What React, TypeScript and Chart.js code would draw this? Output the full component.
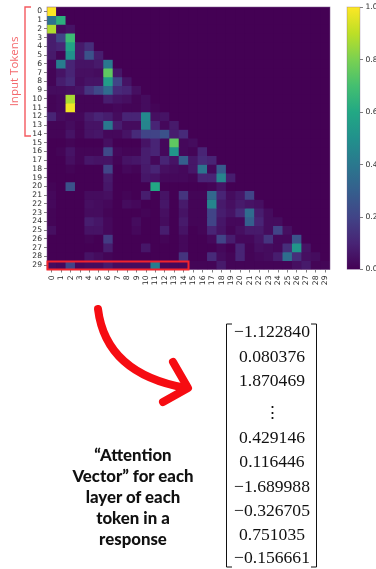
import React, { useEffect, useRef } from "react";
import { Chart, registerables } from "chart.js";

Chart.register(...registerables);

const tokens = Array.from({ length: 30 }, (_, i) => String(i));

const row00 = [1.0];
const row01 = [0.38, 0.63];
const row02 = [0.88, 0.03, 0.05];
const row03 = [0.08, 0.2, 0.68];
const row04 = [0.08, 0.1, 0.58, 0.07, 0.13];
const row05 = [0.07, 0.01, 0.5, 0.07, 0.25, 0.08];
const row06 = [0.02, 0.42, 0.1, 0.05, 0.05, 0.07, 0.4];
const row07 = [0.01, 0.05, 0.1, 0.04, 0.04, 0.03, 0.75, 0.06];
const row08 = [0.01, 0.08, 0.12, 0.03, 0.05, 0.05, 0.55, 0.2, 0.05];
const row09 = [0.03, 0.03, 0.04, 0.05, 0.15, 0.22, 0.35, 0.12, 0.1, 0.04];
const row10 = [0.01, 0.02, 0.87, 0.01, 0.01, 0.01, 0.08, 0.05, 0.04, 0.01, 0.03];
const row11 = [0.01, 0.02, 0.98, 0.01, 0.01, 0.01, 0.01, 0.02, 0.01, 0.01, 0.03, 0.01];
const row12 = [0.1, 0.03, 0.02, 0.02, 0.07, 0.1, 0.08, 0.03, 0.1, 0.1, 0.47, 0.04, 0.05];
const row13 = [0.01, 0.01, 0.03, 0.01, 0.05, 0.05, 0.4, 0.08, 0.03, 0.03, 0.45, 0.1, 0.02, 0.07];
const row14 = [0.01, 0.01, 0.05, 0.01, 0.05, 0.06, 0.02, 0.02, 0.05, 0.12, 0.2, 0.2, 0.25, 0.08, 0.12];
const row15 = [0, 0, 0.01, 0, 0, 0, 0.04, 0, 0, 0, 0.05, 0.1, 0.02, 0.75, 0.02, 0.03];
const row16 = [0, 0.01, 0.05, 0.01, 0.01, 0.01, 0.22, 0.02, 0.01, 0.01, 0.08, 0.1, 0.02, 0.52, 0.02, 0.01, 0.1];
const row17 = [0, 0, 0.04, 0.01, 0.06, 0.05, 0.05, 0.01, 0.05, 0.06, 0.08, 0.02, 0.1, 0.05, 0.3, 0.06, 0.12, 0.1];
const row18 = [0, 0, 0.01, 0, 0, 0, 0.2, 0, 0.02, 0.01, 0.07, 0.1, 0.04, 0.03, 0.02, 0.06, 0.38, 0.02, 0.28];
const row19 = [0, 0, 0, 0, 0, 0, 0.07, 0, 0, 0, 0.06, 0.05, 0.02, 0.02, 0.02, 0.01, 0.1, 0.1, 0.45, 0.08];
const row20 = [0.01, 0, 0.25, 0, 0, 0, 0.06, 0, 0, 0, 0, 0.6, 0, 0, 0, 0, 0, 0.01, 0.05, 0];
const row21 = [0.02, 0, 0, 0, 0.03, 0.03, 0.04, 0, 0.01, 0, 0.08, 0, 0.05, 0, 0.15, 0.01, 0.01, 0.33, 0.1, 0.03, 0.06, 0.2];
const row22 = [0.02, 0, 0, 0, 0.04, 0.03, 0.02, 0, 0.03, 0.02, 0, 0, 0.06, 0, 0.07, 0.01, 0.01, 0.45, 0.07, 0.04, 0.07, 0.05, 0.04];
const row23 = [0.01, 0, 0, 0, 0.03, 0.03, 0.01, 0, 0, 0, 0.01, 0, 0.04, 0, 0.05, 0.01, 0.01, 0.2, 0.08, 0.05, 0.12, 0.35, 0.08, 0.03];
const row24 = [0.01, 0, 0, 0, 0.08, 0.06, 0.02, 0, 0, 0.03, 0, 0, 0.03, 0, 0.07, 0.01, 0.01, 0.2, 0.06, 0.02, 0.02, 0.3, 0.1, 0.03, 0.03];
const row25 = [0.04, 0, 0, 0, 0.05, 0.05, 0.02, 0, 0, 0.02, 0, 0, 0.08, 0, 0.05, 0, 0.01, 0.1, 0.05, 0.01, 0.04, 0.07, 0.07, 0.03, 0.2, 0.04];
const row26 = [0, 0, 0, 0, 0.01, 0, 0.17, 0, 0, 0, 0, 0, 0.01, 0, 0.02, 0, 0, 0.02, 0.2, 0.08, 0.02, 0.02, 0.05, 0.15, 0.02, 0.02, 0.25];
const row27 = [0, 0, 0, 0, 0, 0, 0.08, 0, 0, 0, 0.06, 0, 0, 0, 0.02, 0, 0, 0, 0.02, 0, 0.1, 0.01, 0.04, 0.03, 0.02, 0.13, 0.52, 0.05];
const row28 = [0, 0, 0, 0, 0.05, 0.03, 0.01, 0, 0, 0, 0, 0, 0, 0, 0.15, 0, 0, 0.12, 0.03, 0.01, 0.1, 0.01, 0.02, 0.03, 0.08, 0.36, 0.13, 0.04, 0.03];
const row29 = [0.03, 0.02, 0.2, 0.02, 0.03, 0.03, 0.07, 0.03, 0.03, 0.03, 0.03, 0.42, 0.02, 0.02, 0.02, 0.01, 0.01, 0.01, 0.07, 0.01, 0.01, 0.01, 0.01, 0.01, 0.01, 0.01, 0.04, 0.07, 0.01, 0.01];

const rows = [
  row00, row01, row02, row03, row04, row05, row06, row07, row08, row09,
  row10, row11, row12, row13, row14, row15, row16, row17, row18, row19,
  row20, row21, row22, row23, row24, row25, row26, row27, row28, row29,
];

const colorbarValues = [1];
const colorbarTicks = [0, 0.2, 0.4, 0.6, 0.8, 1];

const vectorTop = ["\u22121.122840", "0.080376", "1.870469"];
const vectorBottom = ["0.429146", "0.116446", "\u22121.689988", "\u22120.326705", "0.751035", "\u22120.156661"];
const captionLines = ["\u201CAttention", "Vector\u201D for each", "layer of each", "token in a", "response"];

const viridis = [
  [68, 1, 84], [72, 36, 117], [65, 68, 135], [53, 95, 141], [42, 120, 142],
  [33, 145, 140], [34, 168, 132], [68, 191, 112], [122, 209, 81], [189, 223, 38], [253, 231, 37],
];

function colorFor(v: number) {
  const t = Math.max(0, Math.min(1, v)) * (viridis.length - 1);
  const i = Math.min(viridis.length - 2, Math.floor(t));
  const f = t - i;
  const c = viridis[i].map((a, k) => Math.round(a + (viridis[i + 1][k] - a) * f));
  return `rgb(${c[0]},${c[1]},${c[2]})`;
}

const tickColor = "#2b2b2b";
const tickFont = { family: "DejaVu Sans", size: 7.6 };

const plotBackdrop = {
  id: "plotBackdrop",
  beforeDatasetsDraw(chart: any) {
    const { ctx, chartArea: a } = chart;
    ctx.save();
    ctx.fillStyle = colorFor(0);
    ctx.fillRect(a.left, a.top, a.right - a.left, a.bottom - a.top);
    ctx.restore();
  },
};

export default function App() {
  const heatRef = useRef<HTMLCanvasElement>(null);
  const barRef = useRef<HTMLCanvasElement>(null);

  useEffect(() => {
    const heat = new Chart(heatRef.current!, {
      type: "bar",
      plugins: [plotBackdrop],
      data: {
        labels: tokens,
        datasets: rows.map((row) => ({
          data: tokens.map(() => 1),
          backgroundColor: tokens.map((_, c) => colorFor(row[c] ?? 0)),
          borderWidth: 0,
          barPercentage: 1,
          categoryPercentage: 1,
        })),
      },
      options: {
        animation: false,
        responsive: false,
        devicePixelRatio: 1,
        layout: { padding: { left: 0, top: 7, right: 46, bottom: 0 } },
        plugins: { legend: { display: false }, tooltip: { enabled: false } },
        scales: {
          x: {
            stacked: true,
            grid: { offset: false, drawOnChartArea: false, drawTicks: true, tickLength: 3, color: tickColor, lineWidth: 0.6 },
            border: { display: false },
            ticks: { autoSkip: false, minRotation: 90, maxRotation: 90, padding: 3, color: tickColor, font: tickFont },
            afterFit: (s: any) => { s.height = 30.5; },
          },
          y: {
            stacked: true,
            reverse: true,
            min: 0,
            max: 30,
            grid: { drawOnChartArea: false, drawTicks: true, tickLength: 3, color: tickColor, lineWidth: 0.6 },
            border: { display: false },
            afterBuildTicks: (s: any) => { s.ticks = tokens.map((_, i) => ({ value: i + 0.5 })); },
            ticks: { autoSkip: false, padding: 2, color: tickColor, font: tickFont, callback: (v: any) => String(Math.floor(Number(v))) },
            afterFit: (s: any) => { s.width = 47; },
          },
        },
      },
    } as any);

    const bar = new Chart(barRef.current!, {
      type: "bar",
      data: {
        labels: [""],
        datasets: [{
          data: colorbarValues,
          borderWidth: 0,
          barPercentage: 1,
          categoryPercentage: 1,
          backgroundColor: (ctx: any) => {
            const area = ctx.chart.chartArea;
            if (!area) return colorFor(0);
            const g = ctx.chart.ctx.createLinearGradient(0, area.bottom, 0, area.top);
            viridis.forEach((_, i) => g.addColorStop(i / (viridis.length - 1), colorFor(i / (viridis.length - 1))));
            return g;
          },
        }],
      },
      options: {
        animation: false,
        responsive: false,
        devicePixelRatio: 1,
        layout: { padding: { left: 0, top: 7, right: 0, bottom: 30.5 } },
        plugins: { legend: { display: false }, tooltip: { enabled: false } },
        scales: {
          x: { display: false },
          y: {
            position: "right",
            min: 0,
            max: 1,
            grid: { drawOnChartArea: false, drawTicks: true, tickLength: 3, color: tickColor, lineWidth: 0.6 },
            border: { display: false },
            afterBuildTicks: (s: any) => { s.ticks = colorbarTicks.map((value) => ({ value })); },
            ticks: { padding: 2.5, color: tickColor, font: tickFont, callback: (v: any) => Number(v).toFixed(1) },
            afterFit: (s: any) => { s.width = 23; },
          },
        },
      },
    } as any);

    return () => { heat.destroy(); bar.destroy(); };
  }, []);

  const serif = "'Liberation Serif', serif";
  const soft = "blur(0.6px)";
  return (
    <div style={{ position: "absolute", left: 0, top: 0, width: 376, height: 569, overflow: "hidden", background: "#fff" }}>
      <canvas ref={heatRef} width={376} height={300} style={{ position: "absolute", left: 0, top: 0, filter: soft }} />
      <canvas ref={barRef} width={36} height={300} style={{ position: "absolute", left: 347, top: 0, filter: soft }} />
      <svg width={376} height={569} style={{ position: "absolute", left: 0, top: 0 }}>
        <rect x={47} y={7} width={283} height={262.5} fill="none" stroke="#7d5a90" strokeOpacity={0.75} strokeWidth={0.7} />
        <rect x={347} y={7} width={13} height={262.5} fill="none" stroke="#7d5a90" strokeOpacity={0.5} strokeWidth={0.6} />
        <path d="M31 7H25V136H31" fill="none" stroke="#f4595f" strokeWidth={1.4} />
        <text x={0} y={0} transform="translate(17.5 71.5) rotate(-90)" textAnchor="middle" fontFamily="'Open Sans', sans-serif" fontSize={11.5} fill="#f4686c">Input Tokens</text>
        <rect x={47.5} y={261.5} width={141} height={8} fill="none" stroke="#f2232d" strokeWidth={2} />
        <path d="M98 309C103 350 130 378 186 388" fill="none" stroke="#f60c12" strokeWidth={8} strokeLinecap="round" />
        <path d="M173 362L188 388L163 402" fill="none" stroke="#f60c12" strokeWidth={8} strokeLinecap="round" strokeLinejoin="round" />
        <path d="M232 324H226.5V567H232" fill="none" stroke="#111" strokeWidth={1} />
        <path d="M311 324H316.5V567H311" fill="none" stroke="#111" strokeWidth={1} />
        <g fontFamily={serif} fontSize={17.6} fill="#111" textAnchor="middle">
          {vectorTop.map((t, i) => <text key={t} x={272} y={[337, 362, 386][i]}>{t}</text>)}
          <text x={272} y={418} fontFamily="'DejaVu Serif', serif" fontSize={17}>{"\u22EE"}</text>
          {vectorBottom.map((t, i) => <text key={t} x={272} y={[443, 467, 492, 516, 540, 563][i]}>{t}</text>)}
        </g>
        <g fontFamily="Lato, sans-serif" fontWeight={900} fontSize={16.8} fill="#111" textAnchor="middle">
          {captionLines.map((t, i) => <text key={t} x={133} y={[461, 482, 503, 524, 545][i]}>{t}</text>)}
        </g>
      </svg>
    </div>
  );
}
